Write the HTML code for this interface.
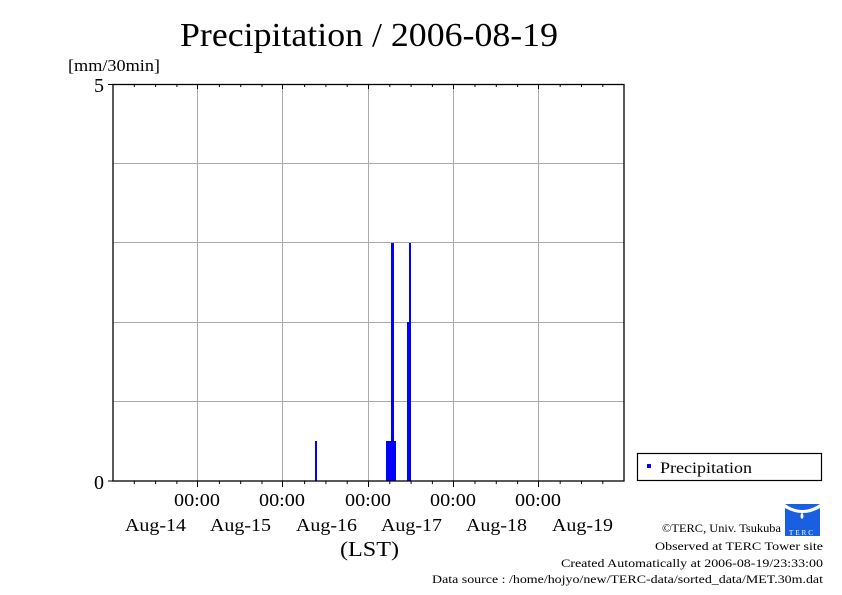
<!DOCTYPE html><html><head><style>body{margin:0;background:#fff}svg{display:block}text{font-family:"Liberation Serif",serif;fill:#000}</style></head><body>
<svg width="842" height="595" xmlns="http://www.w3.org/2000/svg">
<text x="180" y="46" font-size="34" textLength="378" lengthAdjust="spacingAndGlyphs">Precipitation / 2006-08-19</text>
<text x="68" y="71" font-size="17" textLength="92" lengthAdjust="spacingAndGlyphs">[mm/30min]</text>
<text x="104" y="92" font-size="20" text-anchor="end">5</text>
<text x="104" y="489" font-size="20" text-anchor="end">0</text>
<g stroke="#aaa" stroke-width="1">
<line x1="197.5" y1="84" x2="197.5" y2="481"/><line x1="282.5" y1="84" x2="282.5" y2="481"/><line x1="368.5" y1="84" x2="368.5" y2="481"/><line x1="453.5" y1="84" x2="453.5" y2="481"/><line x1="538.5" y1="84" x2="538.5" y2="481"/>
<line x1="113" y1="401.5" x2="624" y2="401.5"/><line x1="113" y1="322.5" x2="624" y2="322.5"/><line x1="113" y1="242.5" x2="624" y2="242.5"/><line x1="113" y1="163.5" x2="624" y2="163.5"/>
</g>
<g fill="#0000ff">
<rect x="315" y="441" width="2" height="40"/>
<rect x="386" y="441" width="10" height="40"/>
<rect x="391" y="243" width="3" height="238"/>
<rect x="407" y="322" width="4" height="159"/>
<rect x="409" y="243" width="2" height="238"/>
</g>
<g stroke="#000" stroke-width="1.3" fill="none">
<rect x="113" y="84.5" width="511" height="396.5"/>
</g>
<g stroke="#000" stroke-width="1">
<path d="M134.3 481v3M155.6 481v3M176.9 481v3M219.4 481v3M240.7 481v3M262 481v3M304.6 481v3M325.9 481v3M347.2 481v3M389.8 481v3M411.1 481v3M432.4 481v3M475 481v3M496.3 481v3M517.6 481v3M560.2 481v3M581.5 481v3M602.8 481v3"/>
<path d="M197.5 481v6M282.5 481v6M368.5 481v6M453.5 481v6M538.5 481v6"/>
<path d="M134.3 84v3M155.6 84v3M176.9 84v3M219.4 84v3M240.7 84v3M262 84v3M304.6 84v3M325.9 84v3M347.2 84v3M389.8 84v3M411.1 84v3M432.4 84v3M475 84v3M496.3 84v3M517.6 84v3M560.2 84v3M581.5 84v3M602.8 84v3"/>
<path d="M197.5 84v5M282.5 84v5M368.5 84v5M453.5 84v5M538.5 84v5"/>
<path d="M108 84.5h5M108 481h5"/>
</g>
<g font-size="18">
<text x="174" y="506" textLength="46" lengthAdjust="spacingAndGlyphs">00:00</text><text x="259" y="506" textLength="46" lengthAdjust="spacingAndGlyphs">00:00</text><text x="345" y="506" textLength="46" lengthAdjust="spacingAndGlyphs">00:00</text><text x="430" y="506" textLength="46" lengthAdjust="spacingAndGlyphs">00:00</text><text x="515" y="506" textLength="46" lengthAdjust="spacingAndGlyphs">00:00</text>
<text x="125" y="531" textLength="61" lengthAdjust="spacingAndGlyphs">Aug-14</text><text x="210" y="531" textLength="61" lengthAdjust="spacingAndGlyphs">Aug-15</text><text x="296" y="531" textLength="61" lengthAdjust="spacingAndGlyphs">Aug-16</text><text x="381" y="531" textLength="61" lengthAdjust="spacingAndGlyphs">Aug-17</text><text x="466" y="531" textLength="61" lengthAdjust="spacingAndGlyphs">Aug-18</text><text x="552" y="531" textLength="61" lengthAdjust="spacingAndGlyphs">Aug-19</text>
<text x="340" y="556" font-size="21" textLength="59" lengthAdjust="spacingAndGlyphs">(LST)</text>
</g>
<rect x="637.5" y="453.5" width="184" height="27" fill="none" stroke="#000" stroke-width="1.2"/>
<rect x="647" y="464" width="4" height="4" fill="#0000ff"/>
<text x="660" y="473" font-size="16" textLength="92" lengthAdjust="spacingAndGlyphs">Precipitation</text>
<rect x="785" y="504" width="35" height="32" fill="#1a5fe0"/>
<path d="M785 504q17 12 35 0v4q-17 10-35 0z" fill="#fff"/>
<path d="M802 512q-3 5 0 7q3-2 0-7z" fill="#fff"/>
<text x="802" y="535" font-size="7" style="fill:#fff" text-anchor="middle" letter-spacing="2">TERC</text>
<g font-size="12">
<text x="662" y="532" textLength="119" lengthAdjust="spacingAndGlyphs">©TERC, Univ. Tsukuba</text>
<text x="655" y="550" textLength="168" lengthAdjust="spacingAndGlyphs">Observed at TERC Tower site</text>
<text x="561" y="567" textLength="262" lengthAdjust="spacingAndGlyphs">Created Automatically at 2006-08-19/23:33:00</text>
<text x="432" y="583" textLength="391" lengthAdjust="spacingAndGlyphs">Data source : /home/hojyo/new/TERC-data/sorted_data/MET.30m.dat</text>
</g>
</svg></body></html>
